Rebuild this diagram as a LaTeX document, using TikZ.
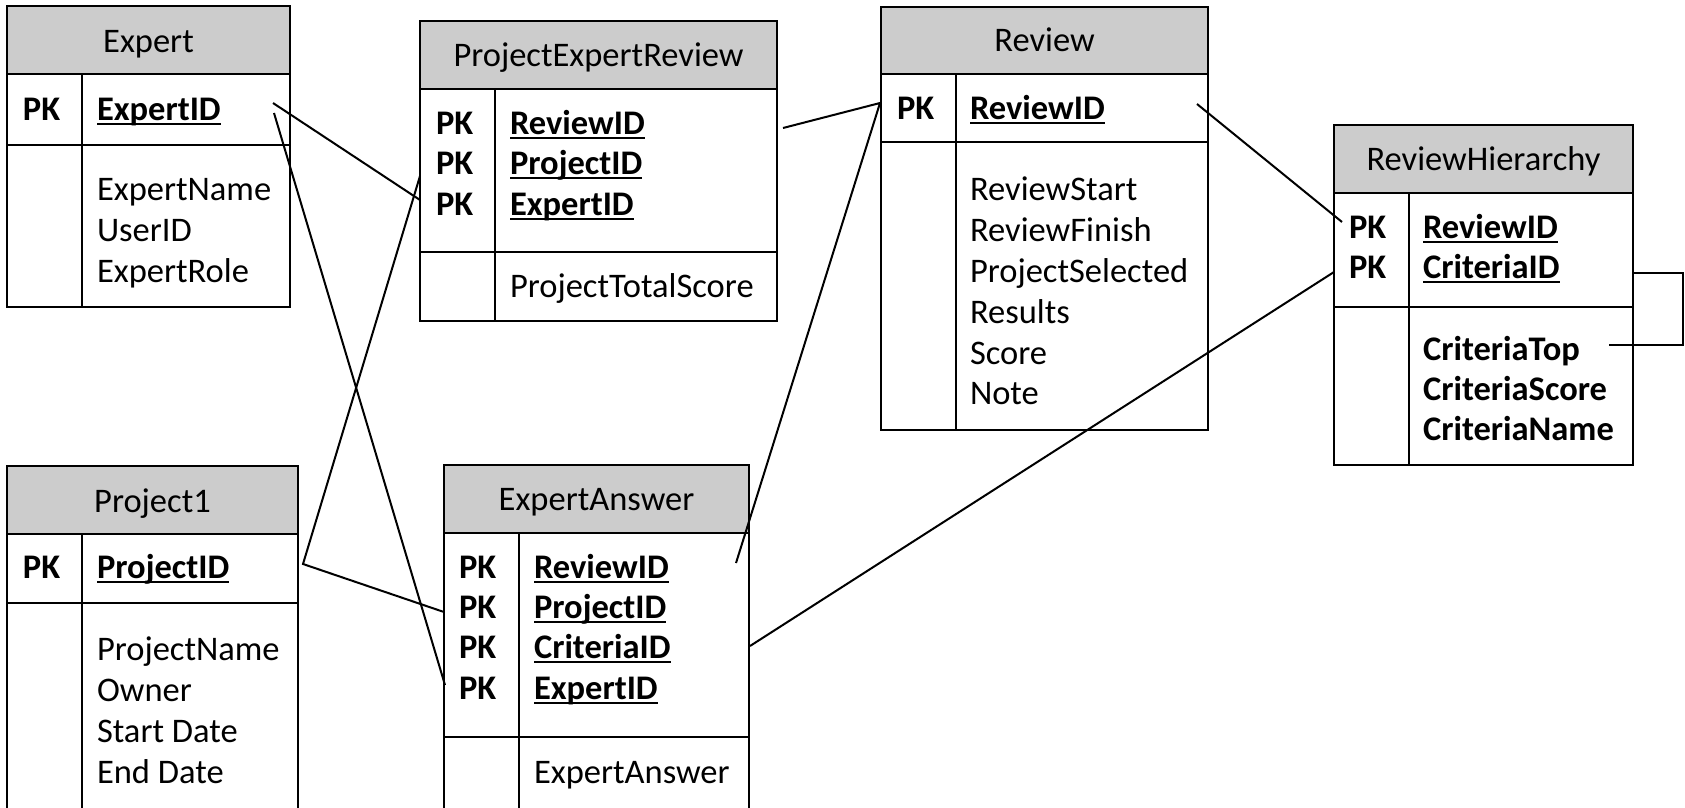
\documentclass[tikz,border=0pt]{standalone}
\usepackage{fontspec}
\setmainfont{Carlito}

% bold key field with a heavy underline placed just under the baseline
\newcommand\keyname[1]{\setbox0\hbox{#1}\rlap{\rule[-5pt]{\wd0}{2.2pt}}\box0}

% one entity table: left, right, top, header bottom, key bottom, bottom, column divider
\newcommand\ertable[7]{%
  \fill[hdr] (#1,#3) rectangle (#2,#4);
  \draw[frame] (#1,#3) rectangle (#2,#6);
  \draw[frame] (#1,#4) -- (#2,#4) (#1,#5) -- (#2,#5) (#7,#4) -- (#7,#6);
}

\tikzset{
  frame/.style={line width=2.4pt},
  hdr/.style={fill=black!20},
  lbl/.style={inner sep=0pt, outer sep=0pt, anchor=base west,
              font=\fontsize{34.5}{41}\selectfont},
  ttl/.style={lbl, anchor=base},
  pkey/.style={lbl, font=\fontsize{34.5}{41}\selectfont\bfseries},
  link/.style={line width=2pt}
}

\begin{document}
\begin{tikzpicture}[x=1pt, y=-1pt]
\useasboundingbox (0,0) rectangle (1685,807);

% ---------------- tables ----------------
\ertable{7}{290}{6}{74}{145}{307}{82}        % Expert
\ertable{420}{777}{21}{89}{252}{321}{495}    % ProjectExpertReview
\ertable{881}{1208}{7}{74}{142}{430}{956}    % Review
\ertable{1334}{1633}{125}{193}{307}{465}{1409} % ReviewHierarchy
\ertable{7}{298}{466}{534}{603}{815}{82}     % Project1
\ertable{444}{749}{465}{533}{737}{815}{519}  % ExpertAnswer

% Expert
\node[ttl] (exp-t) at (148.5,52) {Expert};
\node[pkey] (exp-pk1) at (23,120) {PK};
\node[pkey] (exp-k1) at (97,120) {\keyname{ExpertID}};
\node[lbl] (exp-a1) at (97,200) {ExpertName};
\node[lbl] (exp-a2) at (97,241) {UserID};
\node[lbl] (exp-a3) at (97,282) {ExpertRole};

% ProjectExpertReview
\node[ttl] (per-t) at (598.5,66) {ProjectExpertReview};
\node[pkey] (per-pk1) at (436,134) {PK};
\node[pkey] (per-pk2) at (436,174) {PK};
\node[pkey] (per-pk3) at (436,215) {PK};
\node[pkey] (per-k1) at (510,134) {\keyname{ReviewID}};
\node[pkey] (per-k2) at (510,174) {\keyname{ProjectID}};
\node[pkey] (per-k3) at (510,215) {\keyname{ExpertID}};
\node[lbl] (per-a1) at (510,297) {ProjectTotalScore};

% Review
\node[ttl] (rev-t) at (1044.5,51) {Review};
\node[pkey] (rev-pk1) at (897,119) {PK};
\node[pkey] (rev-k1) at (970,119) {\keyname{ReviewID}};
\node[lbl] (rev-a1) at (970,200) {ReviewStart};
\node[lbl] (rev-a2) at (970,241) {ReviewFinish};
\node[lbl] (rev-a3) at (970,282) {ProjectSelected};
\node[lbl] (rev-a4) at (970,323) {Results};
\node[lbl] (rev-a5) at (970,364) {Score};
\node[lbl] (rev-a6) at (970,404) {Note};

% ReviewHierarchy
\node[ttl] (rh-t) at (1483.5,170) {ReviewHierarchy};
\node[pkey] (rh-pk1) at (1349,238) {PK};
\node[pkey] (rh-pk2) at (1349,278) {PK};
\node[pkey] (rh-k1) at (1423,238) {\keyname{ReviewID}};
\node[pkey] (rh-k2) at (1423,278) {\keyname{CriteriaID}};
\node[pkey] (rh-a1) at (1423,360) {CriteriaTop};
\node[pkey] (rh-a2) at (1423,400) {CriteriaScore};
\node[pkey] (rh-a3) at (1423,440) {CriteriaName};

% Project1
\node[ttl] (prj-t) at (152.5,512) {Project1};
\node[pkey] (prj-pk1) at (23,578) {PK};
\node[pkey] (prj-k1) at (97,578) {\keyname{ProjectID}};
\node[lbl] (prj-a1) at (97,660) {ProjectName};
\node[lbl] (prj-a2) at (97,701) {Owner};
\node[lbl] (prj-a3) at (97,742) {Start Date};
\node[lbl] (prj-a4) at (97,783) {End Date};

% ExpertAnswer
\node[ttl] (ea-t) at (596.5,510) {ExpertAnswer};
\node[pkey] (ea-pk1) at (459,578) {PK};
\node[pkey] (ea-pk2) at (459,618) {PK};
\node[pkey] (ea-pk3) at (459,658) {PK};
\node[pkey] (ea-pk4) at (459,699) {PK};
\node[pkey] (ea-k1) at (534,578) {\keyname{ReviewID}};
\node[pkey] (ea-k2) at (534,618) {\keyname{ProjectID}};
\node[pkey] (ea-k3) at (534,658) {\keyname{CriteriaID}};
\node[pkey] (ea-k4) at (534,699) {\keyname{ExpertID}};
\node[lbl] (ea-a1) at (534,783) {ExpertAnswer};

% ---------------- relationship end points ----------------
\coordinate (exp-o1) at (273,103);
\coordinate (exp-o2) at (274,113);
\coordinate (per-i1) at (420,200);
\coordinate (per-i2) at (420,176);
\coordinate (per-o)  at (783,128);
\coordinate (rev-i)  at (880,103);
\coordinate (rev-o)  at (1197,104);
\coordinate (rh-i1)  at (1342,222);
\coordinate (rh-i2)  at (1334,272);
\coordinate (rh-o1)  at (1634,273);
\coordinate (rh-o2)  at (1609,345);
\coordinate (prj-o)  at (303,564);
\coordinate (ea-i1)  at (444,612);
\coordinate (ea-i2)  at (445,685);
\coordinate (ea-o1)  at (736,563);
\coordinate (ea-o2)  at (750,646);

% ---------------- relationships ----------------
\draw[link] (exp-o1) -- (per-i1);
\draw[link] (exp-o2) -- (ea-i2);
\draw[link] (per-i2) -- (prj-o) -- (ea-i1);
\draw[link] (per-o) -- (rev-i) -- (ea-o1);
\draw[link] (rev-o) -- (rh-i1);
\draw[link] (rh-i2) -- (ea-o2);
\draw[link] (rh-o1) -- ++(49,0) |- (rh-o2);
\end{tikzpicture}
\end{document}
